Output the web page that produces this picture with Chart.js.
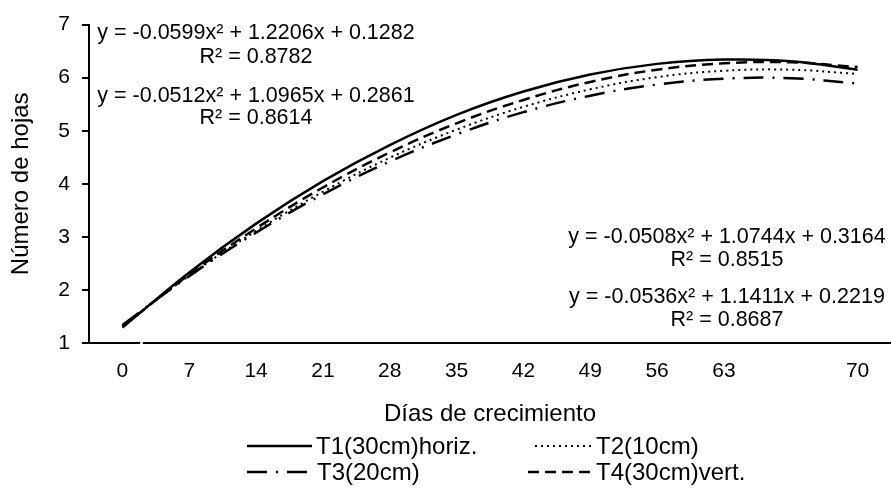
<!DOCTYPE html>
<html>
<head>
<meta charset="utf-8">
<script src="https://cdn.jsdelivr.net/npm/chart.js@4/dist/chart.umd.min.js"></script>
<style>
  body { margin: 0; background: #fff; }
</style>
</head>
<body>
<canvas id="graph" width="891" height="488"></canvas>
<script>
// Categories (days of growth); the 11th category has no label
var dias = ['0', '7', '14', '21', '28', '35', '42', '49', '56', '63', '', '70'];
// Number of leaves
var t1 = [1.29, 2.33, 3.25, 4.05, 4.73, 5.30, 5.74, 6.06, 6.26, 6.34, 6.31, 6.15];
var t2 = [1.33, 2.27, 3.11, 3.85, 4.49, 5.02, 5.45, 5.78, 6.01, 6.13, 6.15, 6.07];
var t3 = [1.34, 2.26, 3.08, 3.80, 4.42, 4.93, 5.35, 5.66, 5.87, 5.98, 5.99, 5.89];
var t4 = [1.31, 2.29, 3.16, 3.93, 4.59, 5.14, 5.58, 5.92, 6.15, 6.27, 6.29, 6.20];
var seriesNames = ['T1(30cm)horiz.', 'T2(10cm)', 'T3(20cm)', 'T4(30cm)vert.'];
var yMin = 1, yMax = 7, yStep = 1;
// Trend line equations shown on the chart
var eqLeft = ['y = -0.0599x² + 1.2206x + 0.1282', 'R² = 0.8782',
              'y = -0.0512x² + 1.0965x + 0.2861', 'R² = 0.8614'];
var eqRight = ['y = -0.0508x² + 1.0744x + 0.3164', 'R² = 0.8515',
               'y = -0.0536x² + 1.1411x + 0.2219', 'R² = 0.8687'];

var FONT = 'Liberation Sans, Arial, sans-serif';

// Draw equations, legend and the little axis break
var extras = {
    id: 'extras',
    afterDraw: function (chart) {
        var ctx = chart.ctx;
        var area = chart.chartArea;
        ctx.save();
        // axis break mark
        ctx.strokeStyle = '#fff';
        ctx.lineWidth = 2.5;
        ctx.beginPath();
        ctx.moveTo(area.left + 51, area.bottom + 4);
        ctx.lineTo(area.left + 54, area.bottom - 4);
        ctx.stroke();
        // equations
        ctx.fillStyle = '#000';
        ctx.font = '21.5px ' + FONT;
        ctx.textAlign = 'center';
        ctx.textBaseline = 'middle';
        var ly = [33, 57, 96, 118];
        eqLeft.forEach(function (t, i) { ctx.fillText(t, 256, ly[i]); });
        var ry = [237, 260, 297, 320];
        eqRight.forEach(function (t, i) { ctx.fillText(t, 727, ry[i]); });
        // legend
        var items = [
            { x1: 247, x2: 312, tx: 316, y: 446 },
            { x1: 535, x2: 593, tx: 596, y: 446 },
            { x1: 247, x2: 307, tx: 317, y: 472 },
            { x1: 528, x2: 590, tx: 596, y: 472 }
        ];
        ctx.textAlign = 'left';
        ctx.font = '24px ' + FONT;
        chart.data.datasets.forEach(function (ds, i) {
            var it = items[i];
            ctx.save();
            ctx.strokeStyle = '#000';
            ctx.lineWidth = ds.borderWidth;
            ctx.setLineDash(ds.borderDash || []);
            ctx.beginPath();
            ctx.moveTo(it.x1, it.y);
            ctx.lineTo(it.x2, it.y);
            ctx.stroke();
            ctx.restore();
            ctx.fillText(ds.label, it.tx, it.y + 1);
        });
        ctx.restore();
    }
};

var config = {
    type: 'line',
    data: {
        labels: dias,
        datasets: [
            { label: seriesNames[0], data: t1, borderColor: '#000', borderWidth: 2.5, borderDash: [] },
            { label: seriesNames[1], data: t2, borderColor: '#000', borderWidth: 2, borderDash: [2, 4] },
            { label: seriesNames[2], data: t3, borderColor: '#000', borderWidth: 2.5, borderDash: [20, 9, 2, 9] },
            { label: seriesNames[3], data: t4, borderColor: '#000', borderWidth: 2.5, borderDash: [11, 6] }
        ]
    },
    options: {
        responsive: false,
        animation: false,
        layout: { padding: { top: 16, left: 0, right: 0, bottom: 59 } },
        elements: {
            line: { tension: 0.4, fill: false },
            point: { radius: 0 }
        },
        plugins: {
            legend: { display: false },
            tooltip: { enabled: false }
        },
        scales: {
            x: {
                offset: true,
                grid: { display: false, drawTicks: false },
                border: { color: '#000', width: 2 },
                ticks: {
                    color: '#000',
                    font: { family: FONT, size: 21 },
                    padding: 16,
                    maxRotation: 0,
                    autoSkip: false
                },
                title: {
                    display: true,
                    text: 'Días de crecimiento',
                    color: '#000',
                    font: { family: FONT, size: 24 },
                    padding: 0
                },
                afterFit: function (scale) { scale.height = 86; }
            },
            y: {
                min: yMin,
                max: yMax,
                grid: { drawOnChartArea: false, drawTicks: true, tickLength: 7, color: '#000', lineWidth: 2 },
                border: { color: '#000', width: 2 },
                ticks: {
                    stepSize: yStep,
                    color: '#000',
                    font: { family: FONT, size: 21 },
                    padding: 12
                },
                title: {
                    display: true,
                    text: 'Número de hojas',
                    color: '#000',
                    font: { family: FONT, size: 24 },
                    padding: { top: 7, bottom: 0 }
                },
                afterFit: function (scale) { scale.width = 89; }
            }
        }
    },
    plugins: [extras]
};

new Chart(document.getElementById('graph'), config);
</script>
</body>
</html>
